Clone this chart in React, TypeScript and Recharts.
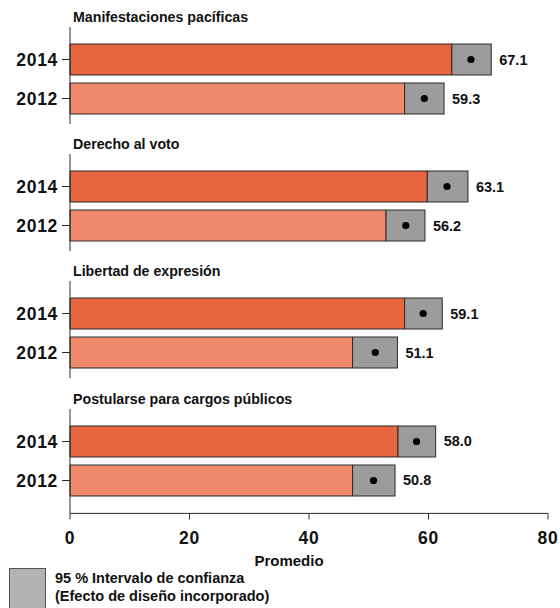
import { BarChart, Bar, XAxis, YAxis, Cell, LabelList } from "recharts";

const panelTitles = [
  "Manifestaciones pacíficas",
  "Derecho al voto",
  "Libertad de expresión",
  "Postularse para cargos públicos",
];
const years = ["2014", "2012"];
const mean2014 = [67.1, 63.1, 59.1, 58.0];
const mean2012 = [59.3, 56.2, 51.1, 50.8];
const low2014 = [63.9, 59.8, 56.0, 54.9];
const high2014 = [70.5, 66.6, 62.3, 61.2];
const low2012 = [56.0, 52.9, 47.3, 47.3];
const high2012 = [62.6, 59.4, 54.8, 54.4];
const xTicks = [0, 20, 40, 60, 80];

const FONT = "'Liberation Sans', Arial, sans-serif";
const yearColors = ["#E8663F", "#EE896B"];
const ciFill = "#9C9C9C";
const edge = "#2a2a2a";

const panelData = (i: number) => [
  { year: years[0], low: low2014[i], span: +(high2014[i] - low2014[i]).toFixed(2), mean: mean2014[i], lowV: low2014[i], highV: high2014[i] },
  { year: years[1], low: low2012[i], span: +(high2012[i] - low2012[i]).toFixed(2), mean: mean2012[i], lowV: low2012[i], highV: high2012[i] },
];

// grey box with the dot placed at the mean inside the interval
const CiShape = (props: any) => {
  const { x, y, width, height, payload } = props;
  const frac = (payload.mean - payload.lowV) / (payload.highV - payload.lowV);
  const cx = x + width * frac;
  return (
    <g>
      <rect x={x} y={y} width={width} height={height} fill={ciFill} stroke={edge} strokeWidth={1} />
      <circle cx={cx} cy={y + height / 2} r={3.6} fill="#000" />
    </g>
  );
};

const MeanLabel = (props: any) => {
  const { x, y, width, height, value } = props;
  return (
    <text
      x={x + width + 8}
      y={y + height / 2}
      dominantBaseline="central"
      fontFamily={FONT}
      fontWeight={700}
      fontSize={14.5}
      fill="#111"
    >
      {Number(value).toFixed(1)}
    </text>
  );
};

const PANEL_STEP = 127.2;
const PLOT_H = 97;
const tickStyle = { fontFamily: FONT, fontWeight: 700, fontSize: 17.5, fill: "#111", letterSpacing: 0.7 };

function Panel({ i, last }: { i: number; last: boolean }) {
  const data = panelData(i);
  const plotH = last ? 104.4 : PLOT_H;
  const xAxisH = 56;
  return (
    <BarChart
      width={560}
      height={plotH + (last ? xAxisH : 0)}
      data={data}
      layout="vertical"
      margin={{ top: 0, right: 12, bottom: 0, left: 0 }}
      barSize={31}
      style={{ position: "absolute", left: 0, top: 27 + PANEL_STEP * i }}
    >
      <XAxis
        type="number"
        domain={[0, 80]}
        ticks={xTicks}
        hide={!last}
        height={xAxisH}
        stroke={edge}
        tickSize={6}
        tickMargin={12}
        tick={tickStyle}
        label={{
          value: "Promedio",
          position: "insideBottom",
          dx: -20,
          offset: 3,
          style: { fontFamily: FONT, fontWeight: 700, fontSize: 15, fill: "#111" },
        }}
      />
      <YAxis
        type="category"
        dataKey="year"
        width={70}
        stroke={edge}
        tickSize={8}
        tickMargin={4}
        padding={{ top: 13, bottom: last ? 13.4 : 6 }}
        tick={tickStyle}
      />
      <Bar dataKey="low" stackId="a" stroke={edge} strokeWidth={1} isAnimationActive={false}>
        {data.map((d, k) => (
          <Cell key={d.year} fill={yearColors[k]} />
        ))}
      </Bar>
      <Bar dataKey="span" stackId="a" shape={CiShape} isAnimationActive={false}>
        <LabelList dataKey="mean" content={MeanLabel} />
      </Bar>
    </BarChart>
  );
}

export default function App() {
  return (
    <div style={{ position: "absolute", left: 0, top: 0, width: 560, height: 608, background: "#fff", overflow: "hidden" }}>
      {panelTitles.map((t, i) => (
        <div
          key={t}
          style={{
            position: "absolute",
            left: 73,
            top: 17 + PANEL_STEP * i - 9,
            height: 18,
            lineHeight: "18px",
            fontFamily: FONT,
            fontWeight: 700,
            fontSize: 14.2,
            color: "#111",
            whiteSpace: "nowrap",
          }}
        >
          {t}
        </div>
      ))}
      {panelTitles.map((t, i) => (
        <Panel key={t} i={i} last={i === panelTitles.length - 1} />
      ))}
      <div
        style={{
          position: "absolute",
          left: 9,
          top: 568,
          width: 35,
          height: 42,
          background: "#B3B3B3",
          border: "1px solid #555",
        }}
      />
      <div
        style={{
          position: "absolute",
          left: 55,
          top: 569,
          fontFamily: FONT,
          fontWeight: 700,
          fontSize: 14.5,
          lineHeight: "18px",
          color: "#111",
        }}
      >
        95 % Intervalo de confianza
        <br />
        (Efecto de diseño incorporado)
      </div>
    </div>
  );
}
